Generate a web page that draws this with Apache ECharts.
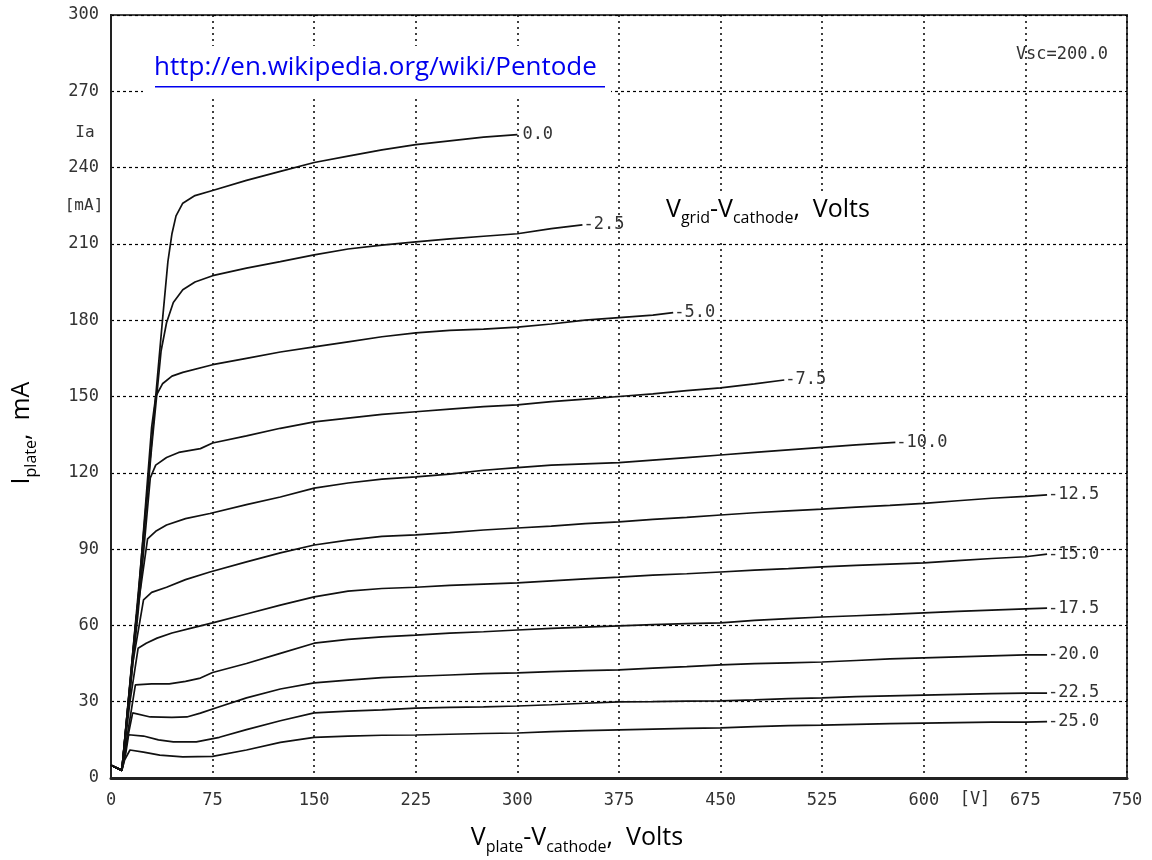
<!DOCTYPE html>
<html>
<head>
<meta charset="utf-8">
<script src="https://cdn.jsdelivr.net/npm/echarts@6/dist/echarts.min.js"></script>
<style>
html,body{margin:0;padding:0;background:#fff;}
#main{width:1152px;height:860px;}
</style>
</head>
<body>
<div id="main"></div>
<script>
// 坐标轴刻度
var xTicks = [0, 75, 150, 225, 300, 375, 450, 525, 600, 675, 750];
var yTicks = [0, 30, 60, 90, 120, 150, 180, 210, 240, 270, 300];

// 栅极电压(曲线名)
var gridVolts = ['0.0', '-2.5', '-5.0', '-7.5', '-10.0', '-12.5', '-15.0', '-17.5', '-20.0', '-22.5', '-25.0'];

// 各曲线 [Va, Ia]
var curve00 = [[0,5],[8,3],[20,72],[30,132],[38,180],[42,203],[45,214],[48,221],[53,226],[62,229],[75,231],[100,235],[125,238.5],[150,242],[175,244.5],[200,247],[225,249],[250,250.5],[275,252],[300,253]];
var curve25 = [[0,5],[8,3],[20,70],[30,130],[37,168],[41,179],[46,187],[53,192],[62,195],[75,197.5],[100,200.5],[125,203],[150,205.7],[175,208],[200,209.5],[225,210.8],[250,212],[275,213],[300,214],[325,216],[348,217.5]];
var curve50 = [[0,5],[8,3],[20,70],[30,138],[33,150],[38,155],[45,158],[53,159.5],[75,162.5],[100,165],[125,167.5],[150,169.5],[175,171.5],[200,173.5],[225,175],[250,176],[275,176.5],[300,177.3],[325,178.5],[350,180],[375,181],[400,182],[415,183]];
var curve75 = [[0,5],[8,3],[20,65],[29,118],[33,123],[41,126],[50,128],[66,129.5],[75,131.7],[100,134.5],[125,137.5],[150,140],[175,141.5],[200,143],[225,144],[250,145],[275,146],[300,146.7],[325,148],[350,149],[375,150],[400,151],[425,152.3],[450,153.4],[475,155],[497,156.5]];
var curve100 = [[0,5],[8,3],[18,60],[27,94],[33,97],[41,99.5],[55,102],[73,104],[100,107.5],[125,110.5],[150,114],[175,116],[200,117.5],[225,118.4],[250,119.5],[275,121],[300,122],[325,123],[350,123.5],[375,124],[400,125],[425,126],[450,127],[475,128],[500,129],[525,130],[550,131],[579,132]];
var curve125 = [[0,5],[8,3],[16,45],[24,70],[30,73],[41,75],[55,78],[73,81],[100,85],[125,88.5],[150,91.6],[175,93.5],[200,95],[225,95.6],[250,96.5],[275,97.5],[300,98.3],[325,99],[350,100],[375,100.7],[400,101.7],[425,102.5],[450,103.4],[475,104.3],[500,105],[525,105.7],[550,106.5],[575,107.2],[600,108],[625,109],[650,110],[675,110.7],[691,111.3]];
var curve150 = [[0,5],[8,3],[14,30],[20,51],[26,53],[34,55],[45,57],[60,59],[75,61],[100,64.5],[125,68],[150,71.2],[175,73.5],[200,74.5],[225,75],[250,75.7],[275,76.2],[300,76.7],[325,77.5],[350,78.3],[375,79],[400,79.8],[425,80.3],[450,81],[475,81.7],[500,82.3],[525,83],[550,83.6],[575,84.1],[600,84.6],[625,85.5],[650,86.3],[675,87],[691,88]];
var curve175 = [[0,5],[8,3],[13,20],[18,36.6],[30,37],[43,37],[55,38],[66,39.3],[75,41.5],[100,45],[125,49],[150,53],[175,54.5],[200,55.5],[225,56.2],[250,57],[275,57.5],[300,58.2],[325,58.8],[350,59.3],[375,59.8],[400,60.3],[425,60.7],[450,61],[475,62],[500,62.7],[525,63.3],[550,63.8],[575,64.3],[600,64.9],[625,65.5],[650,66],[675,66.5],[691,66.8]];
var curve200 = [[0,5],[8,3],[12,15],[16,25.6],[29,24],[45,23.8],[56,24],[66,25.5],[80,28],[100,31.5],[125,35],[150,37.4],[175,38.5],[200,39.5],[225,40],[250,40.5],[275,41],[300,41.3],[325,41.8],[350,42.2],[375,42.5],[400,43.2],[425,43.8],[450,44.5],[475,45],[500,45.3],[525,45.6],[550,46.2],[575,46.8],[600,47.2],[625,47.6],[650,48],[675,48.4],[691,48.4]];
var curve225 = [[0,5],[8,3],[11,10],[13,17],[24,16.5],[35,15],[46,14.2],[63,14.2],[80,16],[100,19],[125,22.5],[150,25.6],[175,26.3],[200,26.8],[225,27.5],[250,27.8],[275,28],[300,28.3],[325,28.8],[350,29.4],[375,29.9],[400,30],[425,30.2],[450,30.3],[475,30.7],[500,31.2],[525,31.5],[550,32],[575,32.3],[600,32.6],[625,32.9],[650,33.2],[675,33.4],[691,33.4]];
var curve250 = [[0,5],[8,3],[10,7],[14,11],[24,10.2],[36,9],[53,8.3],[75,8.5],[100,11],[125,14],[150,16],[175,16.5],[200,16.8],[225,16.9],[250,17.2],[275,17.5],[300,17.7],[325,18.2],[350,18.6],[375,18.9],[400,19.2],[425,19.5],[450,19.7],[475,20.2],[500,20.6],[525,20.8],[550,21.1],[575,21.4],[600,21.6],[625,21.8],[650,22],[675,22],[691,22.2]];

var curves = [curve00, curve25, curve50, curve75, curve100, curve125, curve150, curve175, curve200, curve225, curve250];

var pixFont = 'DejaVu Sans Mono';
var txtFont = 'Open Sans';

var myChart = echarts.init(document.getElementById('main'));

var series = [];
for (var k = 0; k < curves.length; k++) {
	series.push({
		name: gridVolts[k],
		type: 'line',
		data: curves[k],
		symbol: 'none',
		smooth: false,
		z: 3,
		lineStyle: { color: '#111', width: 1.7 },
		endLabel: {
			show: true,
			formatter: '{a}',
			distance: k == 0 ? 5 : 1,
			color: '#333',
			fontFamily: pixFont,
			fontSize: 17
		}
	});
}

// 富文本样式（下标）
var richBig = {
	m: { fontFamily: txtFont, fontSize: 25, lineHeight: 34, verticalAlign: 'middle', color: '#000' },
	s: { fontFamily: txtFont, fontSize: 16, lineHeight: 16, verticalAlign: 'bottom', color: '#000' }
};

var option = {
	backgroundColor: '#fff',
	animation: false,
	grid: {
		left: 111,
		right: 25,
		top: 15,
		bottom: 82,
		show: true,
		borderColor: '#444',
		borderWidth: 2,
		containLabel: false
	},
	xAxis: {
		type: 'value',
		min: 0,
		max: 750,
		interval: 75,
		axisLine: { show: true, lineStyle: { color: '#222', width: 3 } },
		axisTick: { show: false },
		axisLabel: {
			margin: 14,
			color: '#333',
			fontFamily: pixFont,
			fontSize: 17,
			customValues: xTicks
		},
		splitLine: { show: true, lineStyle: { color: '#000', type: [2, 4], width: 1.5 } }
	},
	yAxis: {
		type: 'value',
		min: 0,
		max: 300,
		interval: 30,
		axisLine: { show: true, lineStyle: { color: '#222', width: 2 } },
		axisTick: { show: false },
		axisLabel: {
			margin: 12,
			color: '#333',
			fontFamily: pixFont,
			fontSize: 17,
			customValues: yTicks
		},
		splitLine: { show: true, lineStyle: { color: '#000', type: [3, 3], width: 1.2 } }
	},
	graphic: [
		// 链接
		{ type: 'rect', left: 143, top: 46, shape: { width: 468, height: 50 }, style: { fill: '#fff' }, z: 10 },
		{ type: 'text', left: 154, top: 55, z: 11,
		  style: { text: 'http://en.wikipedia.org/wiki/Pentode', fill: '#0000ee', fontFamily: txtFont, fontSize: 26 } },
		{ type: 'rect', left: 155, top: 86, shape: { width: 450, height: 1.6 }, style: { fill: '#0000ee' }, z: 11 },
		// 栅压说明
		{ type: 'rect', left: 655, top: 192, shape: { width: 240, height: 50 }, style: { fill: '#fff' }, z: 10 },
		{ type: 'text', left: 666, top: 197, z: 11,
		  style: { text: '{m|V}{s|grid}{m|-V}{s|cathode}{m|,  Volts}', rich: richBig } },
		{ type: 'text', right: 44, top: 46, z: 11,
		  style: { text: 'Vsc=200.0', fill: '#333', fontFamily: pixFont, fontSize: 17 } },
		{ type: 'text', x: 85, y: 133, z: 11,
		  style: { text: 'Ia', fill: '#333', fontFamily: pixFont, fontSize: 16, align: 'center', verticalAlign: 'middle' } },
		{ type: 'text', x: 84, y: 206, z: 11,
		  style: { text: '[mA]', fill: '#333', fontFamily: pixFont, fontSize: 16, align: 'center', verticalAlign: 'middle' } },
		{ type: 'text', x: 975, y: 800, z: 11,
		  style: { text: '[V]', fill: '#333', fontFamily: pixFont, fontSize: 17, align: 'center', verticalAlign: 'middle' } },
		// 坐标轴标题
		{ type: 'text', x: 577, y: 838, z: 11,
		  style: { text: '{m|V}{s|plate}{m|-V}{s|cathode}{m|,  Volts}', rich: richBig, align: 'center', verticalAlign: 'middle' } },
		{ type: 'text', x: 22, y: 433, rotation: Math.PI / 2, z: 11,
		  style: { text: '{m|I}{s|plate}{m|,  mA}', rich: richBig, align: 'center', verticalAlign: 'middle' } }
	],
	series: series
};

myChart.setOption(option);
</script>
</body>
</html>
